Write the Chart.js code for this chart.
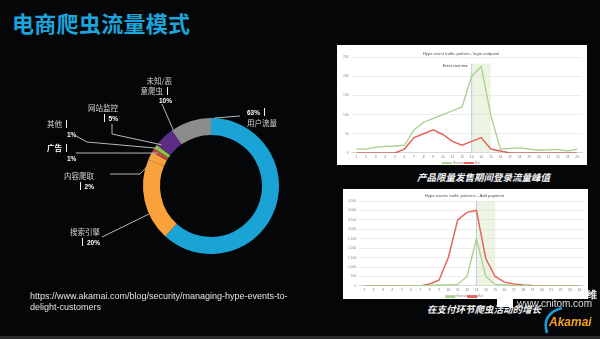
<!DOCTYPE html>
<html lang="zh">
<head>
<meta charset="UTF-8">
<title>电商爬虫流量模式</title>
<script src="https://cdn.jsdelivr.net/npm/chart.js@4.4.1/dist/chart.umd.min.js"></script>
<style>
* { margin: 0; padding: 0; box-sizing: border-box; }
body {
  width: 600px;
  height: 339px;
  background: #050608;
  overflow: hidden;
  position: relative;
  font-family: "Noto Sans CJK SC", "Liberation Sans", sans-serif;
}
h1 {
  position: absolute;
  left: 12px;
  top: 8px;
  font-size: 22px;
  line-height: 28px;
  font-weight: 700;
  color: #1ca3dc;
  letter-spacing: 0.3px;
}
#donut-wrap { position: absolute; left: 0; top: 60px; width: 330px; height: 220px; }
.lbl {
  position: absolute;
  font-size: 7.5px;
  line-height: 9.6px;
  color: #d6d6d6;
  white-space: nowrap;
}
.lbl b { font-family: "Liberation Sans", Arial, sans-serif; font-size: 6.5px; color: #fff; }
.lbl.hi { color: #fff; font-weight: 700; }
.bar { display: inline-block; width: 1px; height: 8px; background: #eee; vertical-align: -1px; margin: 0 4px; }
.box { position: absolute; background: #fff; }
#box1 { left: 337px; top: 45px; width: 250px; height: 120px; }
#box2 { left: 343px; top: 189px; width: 245px; height: 110px; }
.cap {
  position: absolute;
  color: #f2f2f2;
  font-size: 9.5px;
  font-weight: 700;
  font-style: italic;
  white-space: nowrap;
}
.url {
  position: absolute;
  left: 30px;
  top: 291px;
  font-family: "Liberation Sans", Arial, sans-serif;
  font-size: 9px;
  line-height: 11px;
  color: #e2e2e2;
}
.foot { position: absolute; left: 0; bottom: 0; width: 600px; height: 3px; background: #2a2a2a; }
.wm { position: absolute; color: #f4f4f4; font-family: "Liberation Sans", Arial, sans-serif; white-space: nowrap; }
.akamai {
  position: absolute;
  left: 549px;
  top: 315px;
  font-family: "Liberation Sans", Arial, sans-serif;
  font-size: 12px;
  font-weight: 700;
  font-style: italic;
  color: #f6a11d;
}
</style>
</head>
<body>
<h1>电商爬虫流量模式</h1>

<div id="donut-wrap"><canvas id="donut" width="330" height="220"></canvas></div>
<div id="labels"></div>

<div class="box" id="box1"><canvas id="login" width="250" height="120"></canvas></div>
<div class="cap" style="left:417px; top:170px;">产品限量发售期间登录流量峰值</div>

<div class="box" id="box2"><canvas id="payment" width="245" height="110"></canvas></div>
<div class="cap" style="left:427px; top:302px;">在支付环节爬虫活动的增长</div>

<div class="url">https://www.akamai.com/blog/security/managing-hype-events-to-<br>delight-customers</div>

<div style="position:absolute; left:497px; top:295px; width:16px; height:12px; background:#fff;"></div>
<div class="wm" style="left:587px; top:288px; font-size:10px; font-weight:700;">维</div>
<div class="wm" style="left:517px; top:298px; font-size:10px; color:#dcdcdc;">www.cnitom.com</div>
<svg style="position:absolute; left:538px; top:300px;" width="30" height="36">
  <path d="M 9 33 Q 3 14 24 8" fill="none" stroke="#1b9bd7" stroke-width="2.6"/>
</svg>
<div class="akamai">Akamai</div>
<div class="foot"></div>

<script>
// 饼图数据
const donutLabels = ['用户流量', '搜索引擎', '内容爬取', '广告', '其他', '网站监控', '未知/恶意爬虫'];
const donutValues = [63, 20, 2, 1, 1, 5, 10];
const donutColors = ['#1aa3d5', '#f9a13b', '#f9a13b', '#b6474b', '#8cc63f', '#5b2c86', '#8c8c8c'];

// 折线图数据
const hours = ['1', '2', '3', '4', '5', '6', '7', '8', '9', '10', '11', '12',
               '13', '14', '15', '16', '17', '18', '19', '20', '21', '22', '23', '24'];
const loginHuman = [10, 10, 15, 17, 18, 20, 60, 80, 90, 100, 110, 120, 200, 225, 98, 10, 12, 13, 10, 7, 8, 9, 5, 10];
const loginBot   = [0, 0, 0, 0, 0, 10, 40, 50, 60, 48, 30, 20, 30, 40, 10, 5, 0, 0, 0, 0, 0, 0, 0, 0];
const loginTicks = [0, 50, 100, 150, 200, 250];
const payHuman = [0, 0, 0, 0, 0, 10, 20, 30, 50, 60, 80, 500, 2500, 500, 80, 50, 30, 10, 0, 0, 0, 0, 0, 0];
const payBot   = [0, 0, 0, 0, 0, 0, 0, 100, 300, 1500, 3500, 3900, 4000, 1450, 500, 200, 100, 50, 20, 10, 0, 0, 0, 0];
const payTicks = [0, 500, 1000, 1500, 2000, 2500, 3000, 3500, 4000, 4500];

Chart.defaults.font.family = '"Liberation Sans", Arial, sans-serif';

// 标签位置 (页面坐标) 和引线
const labelLayout = [
  { left: 247, top: 107, kind: 'pctFirst', line: [[240, 116]], at: 0.012, r: 1.0 },
  { right: 100, top: 227, line: [[102, 237]], at: 0.33, r: 1.0 },
  { right: 94, top: 171, line: [[110, 174], [140, 174]], at: 0.5, r: 0.92 },
  { left: 47, top: 143, kind: 'barInline', hi: true, line: [[76, 153], [93, 153]], at: 0.5, r: 0.92 },
  { left: 47, top: 119, kind: 'barInline', line: [[76, 136], [87, 142]], at: 0.5, r: 0.96 },
  { right: 118, top: 103, line: [[112, 124], [112, 134]], at: 0.15, r: 0.95 },
  { right: 172, top: 76, kind: 'split', split: 4, line: [[162, 104]], at: 0.04, r: 1.0 }
];

const labelBox = document.getElementById('labels');
donutLabels.forEach((name, i) => {
  const l = labelLayout[i];
  const pct = '<b>' + donutValues[i] + '%</b>';
  const bar = '<span class="bar"></span>';
  let html;
  if (l.kind === 'pctFirst') html = pct + bar + '<br>' + name;
  else if (l.kind === 'barInline') html = name + bar + '<br><span style="padding-left:20px">' + pct + '</span>';
  else if (l.kind === 'split') html = name.slice(0, l.split) + '<br>' + name.slice(l.split) + bar + '<br>' + pct;
  else html = name + '<br>' + bar + pct;
  const d = document.createElement('div');
  d.className = 'lbl' + (l.hi ? ' hi' : '');
  d.innerHTML = html;
  d.style.top = l.top + 'px';
  if (l.right !== undefined) { d.style.right = (600 - l.right) + 'px'; d.style.textAlign = 'right'; }
  else d.style.left = l.left + 'px';
  labelBox.appendChild(d);
});

const leaderPlugin = {
  id: 'leaders',
  afterDraw(chart) {
    const ctx = chart.ctx;
    const meta = chart.getDatasetMeta(0);
    const offY = 60;
    ctx.save();
    ctx.strokeStyle = '#b8b8b8';
    ctx.lineWidth = 1;
    labelLayout.forEach((l, i) => {
      const arc = meta.data[i];
      const p = arc.getProps(['x', 'y', 'startAngle', 'endAngle', 'outerRadius']);
      const a = p.startAngle + (p.endAngle - p.startAngle) * l.at;
      const r = p.outerRadius * l.r;
      ctx.beginPath();
      l.line.forEach((pt, k) => {
        if (k === 0) ctx.moveTo(pt[0], pt[1] - offY);
        else ctx.lineTo(pt[0], pt[1] - offY);
      });
      ctx.lineTo(p.x + Math.cos(a) * r, p.y + Math.sin(a) * r);
      ctx.stroke();
    });
    ctx.restore();
  }
};

new Chart(document.getElementById('donut'), {
  type: 'doughnut',
  data: {
    labels: donutLabels,
    datasets: [{ data: donutValues, backgroundColor: donutColors, borderWidth: 0 }]
  },
  options: {
    responsive: false,
    animation: false,
    cutout: '75%',
    layout: { padding: { left: 143, right: 51, top: 58, bottom: 26 } },
    plugins: { legend: { display: false }, tooltip: { enabled: false } }
  },
  plugins: [leaderPlugin]
});

// 活动时间区间
const bandPlugin = {
  id: 'band',
  beforeDatasetsDraw(chart, args, opts) {
    const { ctx, chartArea, scales: { x, y } } = chart;
    const x0 = x.getPixelForValue(opts.from);
    const x1 = x.getPixelForValue(opts.to);
    const top = opts.top != null ? y.getPixelForValue(opts.top) : chartArea.top;
    ctx.save();
    ctx.fillStyle = 'rgba(214,230,196,0.45)';
    ctx.fillRect(x0, top, x1 - x0, chartArea.bottom - top);
    ctx.strokeStyle = '#a9c3e0';
    ctx.lineWidth = 0.8;
    ctx.beginPath();
    ctx.moveTo(x0, top);
    ctx.lineTo(x0, chartArea.bottom);
    ctx.stroke();
    if (opts.text) {
      ctx.fillStyle = '#444';
      ctx.font = '3.6px "Liberation Sans", Arial, sans-serif';
      ctx.textAlign = 'right';
      ctx.textBaseline = 'middle';
      ctx.fillText(opts.text, x0 - 4, top + 2);
    }
    ctx.restore();
  }
};

// 压缩图例高度
function legendHeight(h) {
  return {
    id: 'legendHeight',
    beforeInit(chart) {
      const fit = chart.legend.fit;
      chart.legend.fit = function () { fit.call(this); this.height = h; };
    }
  };
}

function lineChart(id, title, human, bot, ticks, band, sizes) {
  return new Chart(document.getElementById(id), {
    type: 'line',
    data: {
      labels: hours,
      datasets: [
        { label: 'Human', data: human, borderColor: '#a8cf8c', backgroundColor: '#a8cf8c', borderWidth: 1.3, pointRadius: 0, tension: 0 },
        { label: 'Bot', data: bot, borderColor: '#e5635d', backgroundColor: '#e5635d', borderWidth: 1.5, pointRadius: 0, tension: 0 }
      ]
    },
    options: {
      responsive: false,
      animation: false,
      layout: { padding: sizes.pad },
      scales: {
        x: {
          offset: true,
          grid: { display: false, drawTicks: false },
          border: { color: '#d8d8d8' },
          ticks: { font: { size: 3.4 }, color: '#777', padding: 2, maxRotation: 0, autoSkip: false }
        },
        y: {
          min: 0,
          max: ticks[ticks.length - 1],
          afterBuildTicks: s => { s.ticks = ticks.map(v => ({ value: v })); },
          grid: { color: '#ececec', drawTicks: false },
          border: { display: false },
          ticks: { font: { size: 3.4 }, color: '#888', padding: 3 }
        }
      },
      plugins: {
        title: { display: true, text: title, color: '#555', font: { size: 4.2, weight: 'normal' }, padding: sizes.titlePad },
        legend: {
          position: 'bottom',
          labels: { boxWidth: 9, boxHeight: 1.5, font: { size: 3.2 }, color: '#888', padding: 1 }
        },
        tooltip: { enabled: false },
        band: band
      }
    },
    plugins: [bandPlugin, legendHeight(sizes.lh)]
  });
}

lineChart('login', 'Hype event traffic pattern - login endpoint', loginHuman, loginBot, loginTicks,
  { from: 12, to: 14, top: 233, text: 'Event start time' },
  { pad: { left: 3, right: 5, top: 0, bottom: 1 }, titlePad: { top: 6, bottom: 1 }, lh: 3 });

lineChart('payment', 'Hype events traffic patterns - Add payment', payHuman, payBot, payTicks,
  { from: 12, to: 14 },
  { pad: { left: 2, right: 4, top: 0, bottom: 1 }, titlePad: { top: 4, bottom: 3 }, lh: 4 });
</script>
</body>
</html>
